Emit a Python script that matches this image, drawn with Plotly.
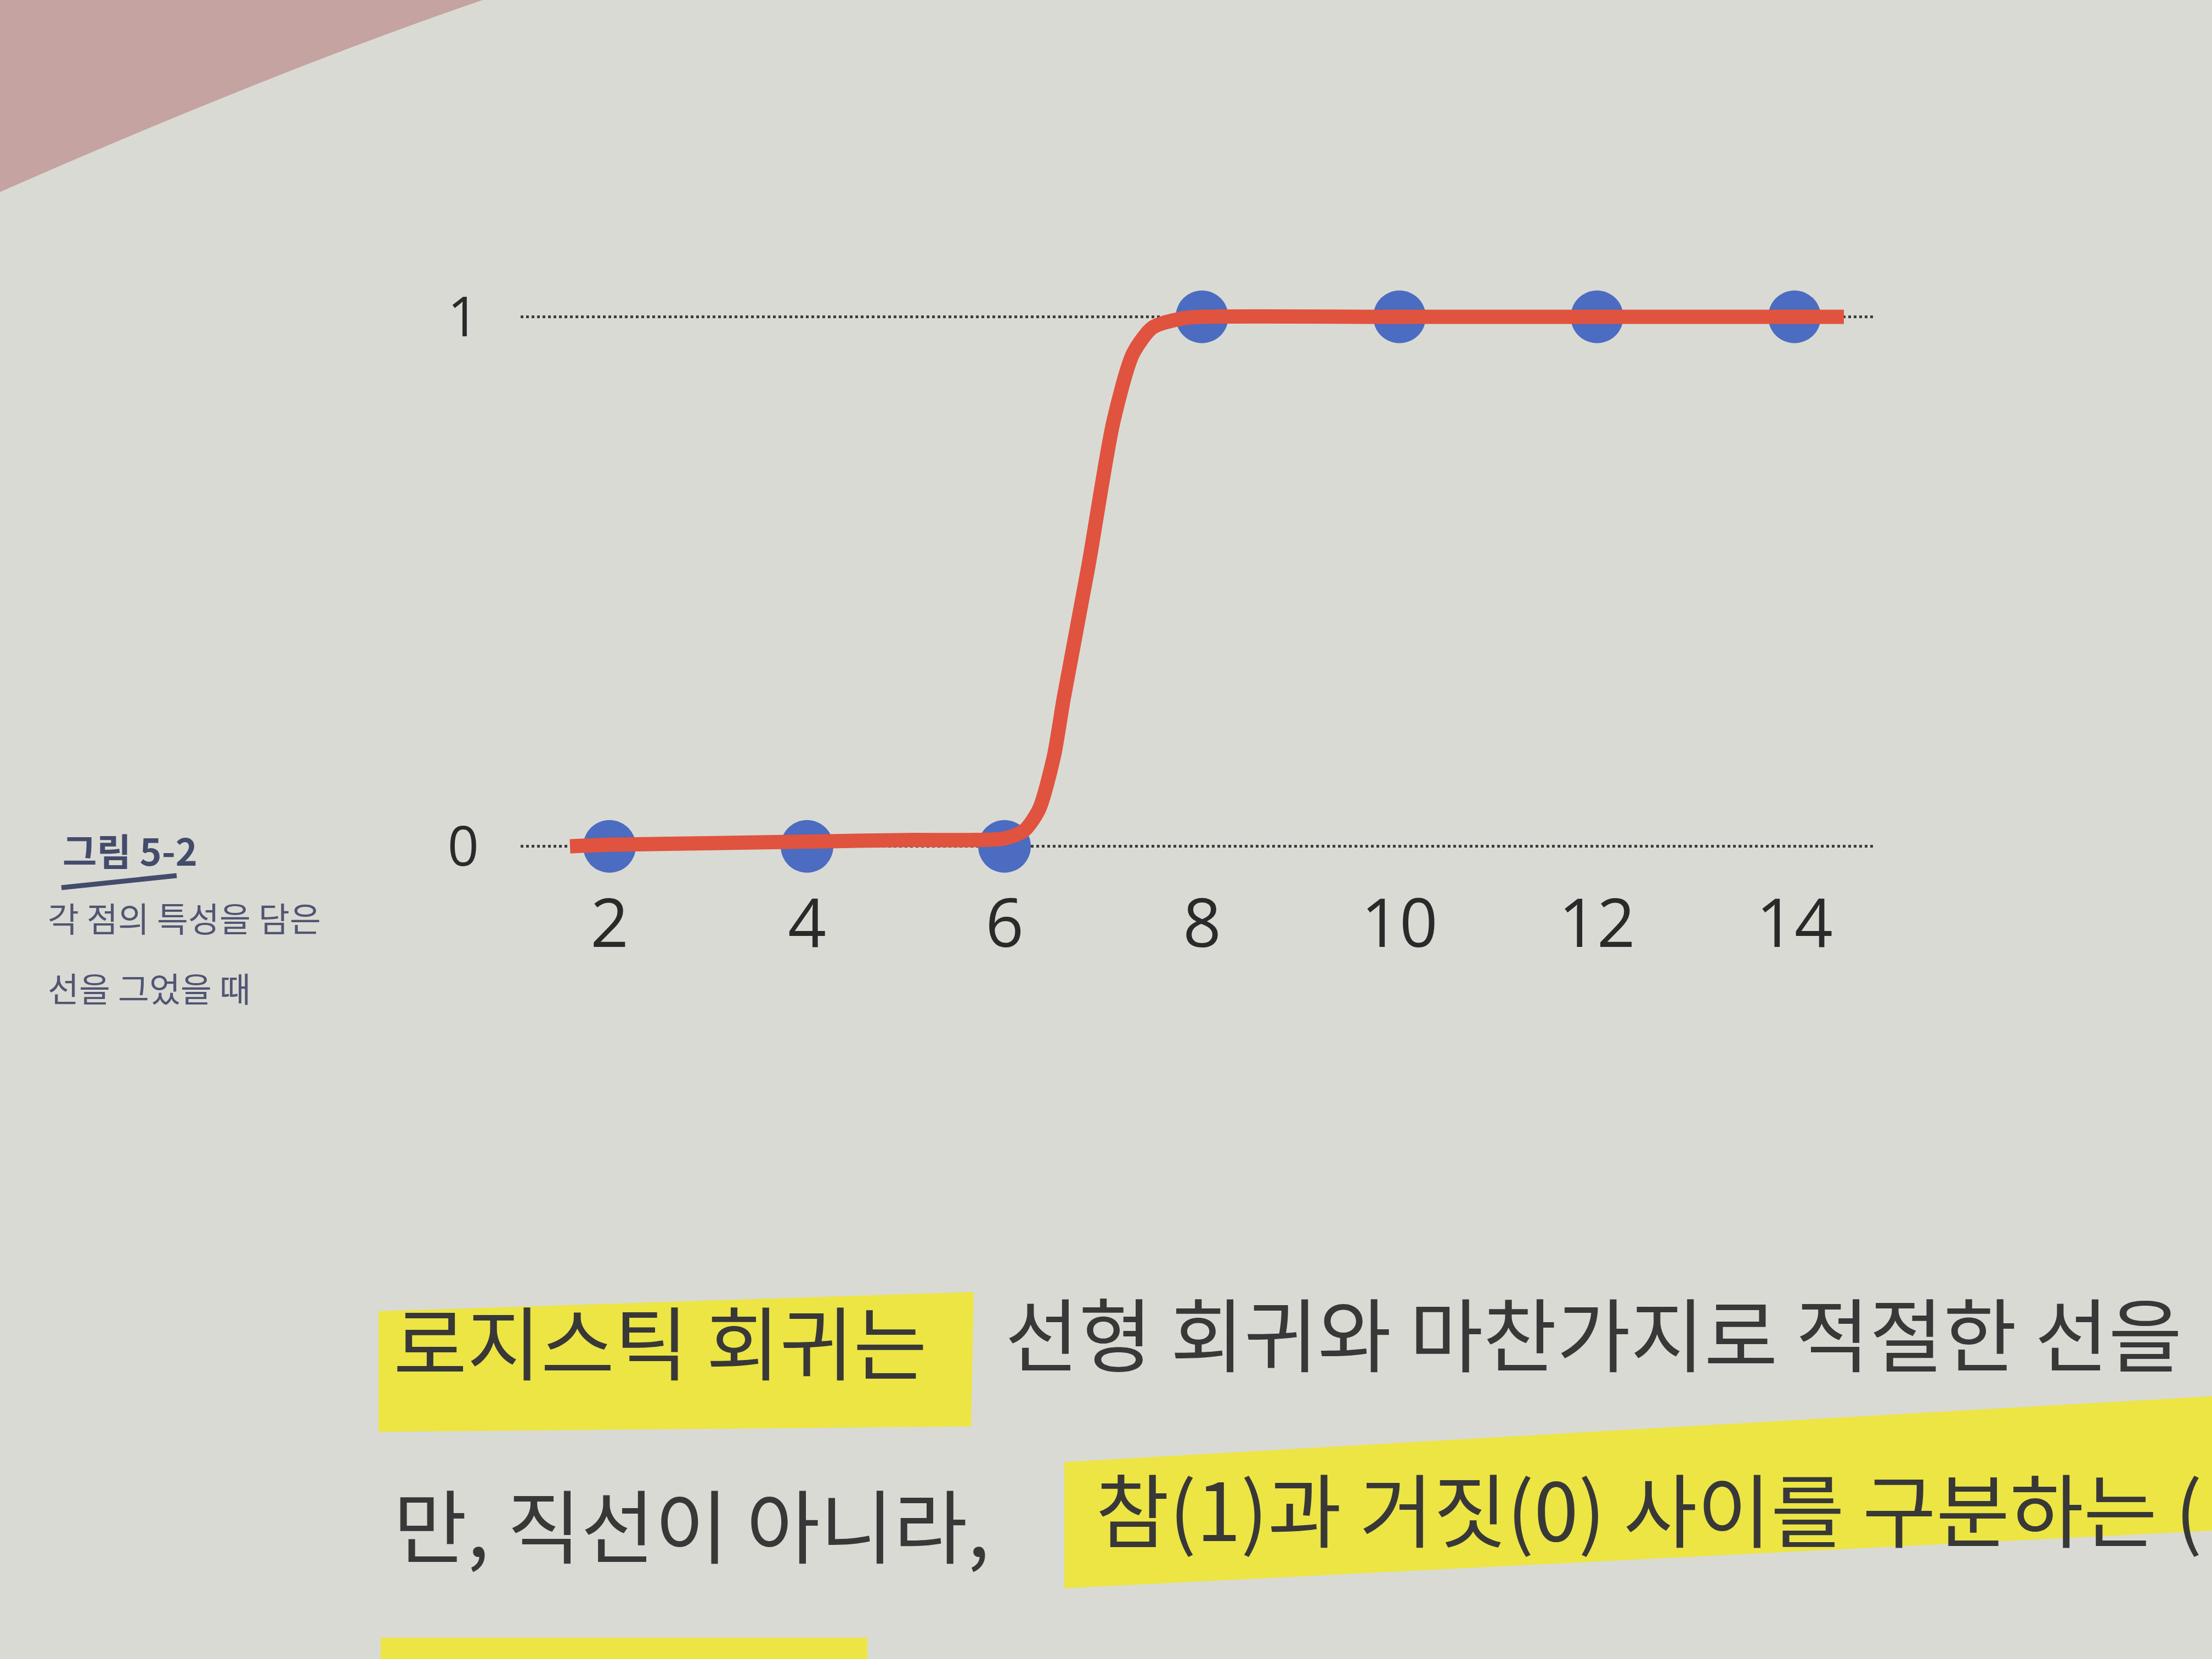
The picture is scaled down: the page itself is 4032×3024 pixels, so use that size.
import plotly.graph_objects as go

# ---------------- data ----------------
point_x = [2, 4, 6, 8, 10, 12, 14]
point_y = [0, 0, 0, 1, 1, 1, 1]

curve_x = [1.6, 2, 3, 4, 5, 6, 6.2, 6.35, 6.5, 6.6, 6.85, 7.1, 7.3, 7.5, 7.8, 8, 10, 12, 14, 14.5]
curve_y = [0.0, 0.003, 0.006, 0.009, 0.012, 0.015, 0.03, 0.07, 0.17, 0.28, 0.53, 0.8, 0.93, 0.98, 0.997, 1.0, 1.0, 1.0, 1.0, 1.0]

x_ticks = [2, 4, 6, 8, 10, 12, 14]
x_tick_text = ["2", "4", "6", "8", "10", "12", "14"]
y_ticks = [0, 1]
y_tick_text = ["0", "1"]

fig_title = "그림 5-2"
caption_lines = ["각 점의 특성을 담은", "선을 그었을 때"]
body_line1_hl = "로지스틱 회귀는"
body_line1_rest = "선형 회귀와 마찬가지로 적절한 선을"
body_line2_a = "만, 직선이 아니라,"
body_line2_hl = "참(1)과 거짓(0) 사이를 구분하는 ("

# ---------------- layout geometry ----------------
FW, FH = 4032, 3024
L, R, T, B = 949, 617, 481, 1433
PW = FW - L - R
PH = FH - T - B
BOTTOM = FH - B


def fx(p):
    return (p - L) / PW


def fy(p):
    return (BOTTOM - p) / PH


PAGE = "#dadad4"
YELLOW = "#ece544"

fig = go.Figure()

fig.add_trace(go.Scatter(
    x=point_x, y=point_y, mode="markers",
    marker=dict(size=96, color="#4b6cc0", line=dict(width=0)),
    cliponaxis=False, showlegend=False, hoverinfo="skip",
))
fig.add_trace(go.Scatter(
    x=curve_x, y=curve_y, mode="lines",
    line=dict(color="#e0533f", width=26, shape="spline", smoothing=0.7),
    cliponaxis=False, showlegend=False, hoverinfo="skip",
))

shapes = []
# pink table corner
shapes.append(dict(
    type="path", xref="paper", yref="paper", layer="below",
    path=f"M {fx(0)},{fy(0)} L {fx(880)},{fy(0)} Q {fx(500)},{fy(130)} {fx(0)},{fy(350)} Z",
    fillcolor="#c5a3a0", line=dict(width=0),
))
# highlights
shapes.append(dict(
    type="path", xref="paper", yref="paper", layer="below",
    path=f"M {fx(690)},{fy(2390)} L {fx(1775)},{fy(2355)} L {fx(1770)},{fy(2600)} L {fx(690)},{fy(2610)} Z",
    fillcolor=YELLOW, line=dict(width=0),
))
shapes.append(dict(
    type="path", xref="paper", yref="paper", layer="below",
    path=f"M {fx(1940)},{fy(2665)} L {fx(4032)},{fy(2545)} L {fx(4032)},{fy(2790)} L {fx(1940)},{fy(2895)} Z",
    fillcolor=YELLOW, line=dict(width=0),
))
shapes.append(dict(
    type="rect", xref="paper", yref="paper", layer="below",
    x0=fx(694), x1=fx(1581), y0=fy(3024), y1=fy(2985),
    fillcolor=YELLOW, line=dict(width=0),
))
# caption underline
shapes.append(dict(
    type="line", xref="paper", yref="paper",
    x0=fx(112), y0=fy(1618), x1=fx(322), y1=fy(1596),
    line=dict(color="#444c6c", width=9),
))

annotations = []
annotations.append(dict(
    text=f"<b>{fig_title}</b>", xref="paper", yref="paper",
    x=fx(112), y=fy(1548), xanchor="left", yanchor="middle", showarrow=False,
    font=dict(family="Noto Sans CJK KR", size=68, color="#444c6c"),
))
for i, line in enumerate(caption_lines):
    annotations.append(dict(
        text=line, xref="paper", yref="paper",
        x=fx(85), y=fy(1672 + i * 128), xanchor="left", yanchor="middle", showarrow=False,
        font=dict(family="Noto Sans CJK KR", size=62, color="#505672"),
    ))

body_font = dict(family="Noto Sans CJK KR", size=146, color="#383838")
annotations.append(dict(
    text=body_line1_hl, xref="paper", yref="paper",
    x=fx(715), y=fy(2440), xanchor="left", yanchor="middle", showarrow=False, font=body_font,
))
annotations.append(dict(
    text=body_line1_rest, xref="paper", yref="paper",
    x=fx(1830), y=fy(2425), xanchor="left", yanchor="middle", showarrow=False, font=body_font,
))
annotations.append(dict(
    text=body_line2_a, xref="paper", yref="paper",
    x=fx(715), y=fy(2775), xanchor="left", yanchor="middle", showarrow=False, font=body_font,
))
annotations.append(dict(
    text=body_line2_hl, xref="paper", yref="paper",
    x=fx(1995), y=fy(2745), xanchor="left", yanchor="middle", showarrow=False, font=body_font,
))

fig.update_layout(
    width=FW, height=FH,
    margin=dict(l=L, r=R, t=T, b=B),
    paper_bgcolor=PAGE, plot_bgcolor=PAGE,
    shapes=shapes, annotations=annotations,
    showlegend=False,
    xaxis=dict(
        range=[1.1, 14.8], tickvals=x_ticks, ticktext=x_tick_text,
        showgrid=False, zeroline=False, showline=False, ticks="",
        ticklabelstandoff=12,
        tickfont=dict(family="Open Sans", size=122, color="#2a2a2a", weight=400),
    ),
    yaxis=dict(
        range=[-0.05, 1.1], tickvals=y_ticks, ticktext=y_tick_text,
        showgrid=True, gridcolor="#3c3c3c", gridwidth=5, griddash="dot",
        zeroline=False, showline=False, ticks="",
        ticklabelstandoff=75,
        tickfont=dict(family="Open Sans", size=100, color="#2a2a2a", weight=400),
    ),
)

fig.write_html("out.html")
